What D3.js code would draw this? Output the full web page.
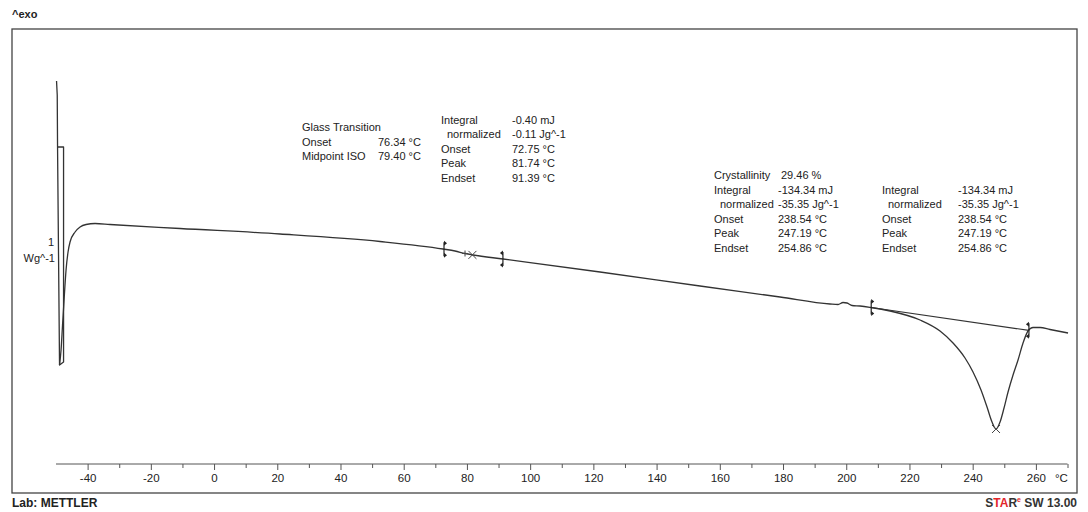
<!DOCTYPE html>
<html>
<head>
<meta charset="utf-8">
<script src="https://cdn.jsdelivr.net/npm/d3@7"></script>
<style>
  body { margin: 0; background: #fff; }
  text { font-family: "Liberation Sans", Arial, sans-serif; fill: #222; }
</style>
</head>
<body>
<svg id="dsc" width="1088" height="512"></svg>
<script>
// DSC curve, temperature in °C and heat flow in Wg^-1
var temps = [-49.83, -49.61, -49.51, -47.61, -47.61, -48.88, -49.51, -48.88,
  -48.40, -47.93, -47.45, -46.82, -46.19, -45.56, -43.97, -42.39, -40.49, -37.65,
  -32.90, -10.76, 20.88, 52.52, 72.45, 76.24, 79.41, 81.94, 91.43, 122.11, 153.75,
  179.06, 194.87, 197.41, 198.99, 200.25, 201.84, 204.37, 207.85, 213.86, 223.35,
  229.67, 233.79, 237.58, 240.11, 242.64, 244.54, 246.12, 247.39, 248.66, 249.92,
  251.19, 252.77, 254.35, 255.93, 257.51, 259.09, 261.31, 264.47, 270.17];
var heatFlow = [1.52, 1.38, 0.86, 0.86, -1.29, -1.32, 0.86, -1.32,
  -1.17, -0.92, -0.67, -0.37, -0.19, -0.09, 0.01, 0.06, 0.085, 0.095,
  0.085, 0.045, -0.01, -0.085, -0.16, -0.18, -0.205, -0.22, -0.26, -0.39, -0.53,
  -0.64, -0.71, -0.715, -0.695, -0.70, -0.725, -0.73, -0.745, -0.78, -0.87,
  -0.98, -1.10, -1.25, -1.39, -1.57, -1.74, -1.89, -1.96, -1.89, -1.75,
  -1.59, -1.42, -1.27, -1.10, -0.98, -0.945, -0.945, -0.965, -1.00];

// evaluation limits and results
var limitTemps = [72.75, 91.39, 207.9, 257.8];
var limitSide = [1, -1, 1, -1];
var peakTemps = [81.74, 247.39];
var midpointTemps = [79.40];
var meltBaseline = [207.9, 257.8];

var xTicks = [-40, -20, 0, 20, 40, 60, 80, 100, 120, 140, 160, 180, 200, 220, 240, 260];

var glassLabels = ["Onset", "Midpoint ISO"];
var glassValues = ["76.34 °C", "79.40 °C"];
var integralLabels = ["Integral", "normalized", "Onset", "Peak", "Endset"];
var glassIntegralValues = ["-0.40 mJ", "-0.11 Jg^-1", "72.75 °C", "81.74 °C", "91.39 °C"];
var meltValues = ["-134.34 mJ", "-35.35 Jg^-1", "238.54 °C", "247.19 °C", "254.86 °C"];

var svg = d3.select("#dsc");

var x = d3.scaleLinear().domain([-50, 270]).range([56, 1067.5]);
var y = d3.scaleLinear().domain([-2.6, 2.04]).range([493, 29]);

var pts = temps.map(function(t, i) { return [t, heatFlow[i]]; });
// start-up transient goes back and forth, after it the curve runs forward in temperature
var transient = pts.slice(0, 8);
var mono = pts.slice(7);
var bis = d3.bisector(function(d) { return d[0]; }).left;
function hfAt(t) {
  var i = bis(mono, t);
  if (i <= 0) return mono[0][1];
  if (i >= mono.length) return mono[mono.length - 1][1];
  var a = mono[i - 1], b = mono[i];
  return a[1] + (b[1] - a[1]) * (t - a[0]) / (b[0] - a[0]);
}

// frame
svg.append("rect")
    .attr("x", 12).attr("y", 29)
    .attr("width", 1065).attr("height", 464)
    .attr("fill", "none")
    .attr("stroke", "#444")
    .attr("stroke-width", 1.3);

// x axis
var axis = d3.axisBottom(x)
    .tickValues(d3.range(-40, 271, 10))
    .tickSize(5)
    .tickFormat(function(d) { return xTicks.indexOf(d) >= 0 ? d : ""; });

var ax = svg.append("g")
    .attr("transform", "translate(0,464)")
    .call(axis);
ax.select(".domain").attr("stroke", "#555").attr("d", "M" + x(-50) + ",0H" + x(270));
ax.selectAll(".tick line")
    .attr("stroke", "#555")
    .attr("y2", function(d) { return xTicks.indexOf(d) >= 0 ? 6 : 4; });
ax.selectAll(".tick text")
    .attr("y", 10)
    .style("font-family", "'Liberation Sans', Arial, sans-serif")
    .style("font-size", "11.5px")
    .attr("fill", "#333");

svg.append("text")
    .attr("x", 1055).attr("y", 482)
    .style("font-size", "11.5px")
    .attr("fill", "#333")
    .text("°C");

// curve
var line = d3.line()
    .x(function(d) { return x(d[0]); })
    .y(function(d) { return y(d[1]); });
var smooth = d3.line()
    .x(function(d) { return x(d[0]); })
    .y(function(d) { return y(d[1]); })
    .curve(d3.curveMonotoneX);

svg.append("path")
    .datum(transient)
    .attr("d", line)
    .attr("fill", "none")
    .attr("stroke", "#333")
    .attr("stroke-width", 1.3)
    .attr("stroke-linejoin", "round");

svg.append("path")
    .datum(mono)
    .attr("d", smooth)
    .attr("fill", "none")
    .attr("stroke", "#333")
    .attr("stroke-width", 1.3)
    .attr("stroke-linejoin", "round");

// melting baseline
svg.append("path")
    .datum(meltBaseline.map(function(t) { return [t, hfAt(t)]; }))
    .attr("d", line)
    .attr("fill", "none")
    .attr("stroke", "#333")
    .attr("stroke-width", 1.2);

// limit markers
limitTemps.forEach(function(t, i) {
  var px = x(t), py = y(hfAt(t)), s = limitSide[i];
  svg.append("line")
      .attr("x1", px).attr("x2", px)
      .attr("y1", py - 7).attr("y2", py + 7)
      .attr("stroke", "#222").attr("stroke-width", 1.2);
  [py - 6, py + 6].forEach(function(ty) {
    svg.append("path")
        .attr("d", "M" + px + "," + (ty - 2.5) + "L" + (px + 3 * s) + "," + ty + "L" + px + "," + (ty + 2.5) + "Z")
        .attr("fill", "#222");
  });
});

// peak crosses
peakTemps.forEach(function(t) {
  var px = x(t), py = y(hfAt(t));
  svg.append("path")
      .attr("d", "M" + (px - 4) + "," + (py - 4) + "L" + (px + 4) + "," + (py + 4) +
                 "M" + (px - 4) + "," + (py + 4) + "L" + (px + 4) + "," + (py - 4))
      .attr("stroke", "#444").attr("stroke-width", 1);
});
midpointTemps.forEach(function(t) {
  var px = x(t), py = y(hfAt(t));
  svg.append("path")
      .attr("d", "M" + (px - 3) + "," + py + "L" + (px + 3) + "," + py + "M" + px + "," + (py - 3) + "L" + px + "," + (py + 3))
      .attr("stroke", "#444").attr("stroke-width", 1);
});

// result texts
function block(lx, vx, y0, labels, values, indent) {
  labels.forEach(function(l, i) {
    svg.append("text")
        .attr("x", lx + (l == "normalized" ? indent : 0)).attr("y", y0 + i * 14.5)
        .style("font-size", "11px")
        .text(l);
    svg.append("text")
        .attr("x", vx).attr("y", y0 + i * 14.5)
        .style("font-size", "11px")
        .text(values[i]);
  });
}

svg.append("text").attr("x", 302).attr("y", 131).style("font-size", "11px").text("Glass Transition");
block(302, 378, 145.5, glassLabels, glassValues, 0);
block(441, 512, 123.5, integralLabels, glassIntegralValues, 6);

svg.append("text").attr("x", 714).attr("y", 179).style("font-size", "11px").text("Crystallinity");
svg.append("text").attr("x", 781).attr("y", 179).style("font-size", "11px").text("29.46 %");
block(714, 778, 193.5, integralLabels, meltValues, 6);
block(882, 958, 193.5, integralLabels, meltValues, 6);

// y scale label
svg.append("text").attr("x", 54).attr("y", 246).attr("text-anchor", "end")
    .style("font-size", "11px").text("1");
svg.append("text").attr("x", 55).attr("y", 262).attr("text-anchor", "end")
    .style("font-size", "11px").text("Wg^-1");

svg.append("text").attr("x", 12).attr("y", 18)
    .style("font-size", "11px").style("font-weight", "bold").text("^exo");

svg.append("text").attr("x", 12).attr("y", 507)
    .style("font-size", "12px").style("font-weight", "bold").attr("fill", "#333").text("Lab: METTLER");

var star = svg.append("text").attr("x", 1077).attr("y", 507).attr("text-anchor", "end")
    .style("font-size", "12px").style("font-weight", "bold");
star.append("tspan").attr("fill", "#333").text("S");
star.append("tspan").attr("fill", "#e3262b").text("TA");
star.append("tspan").attr("fill", "#333").text("R");
star.append("tspan").attr("fill", "#e3262b").attr("dy", -5).style("font-size", "7px").text("e");
star.append("tspan").attr("fill", "#333").attr("dy", 5).text(" SW 13.00");
</script>
</body>
</html>
